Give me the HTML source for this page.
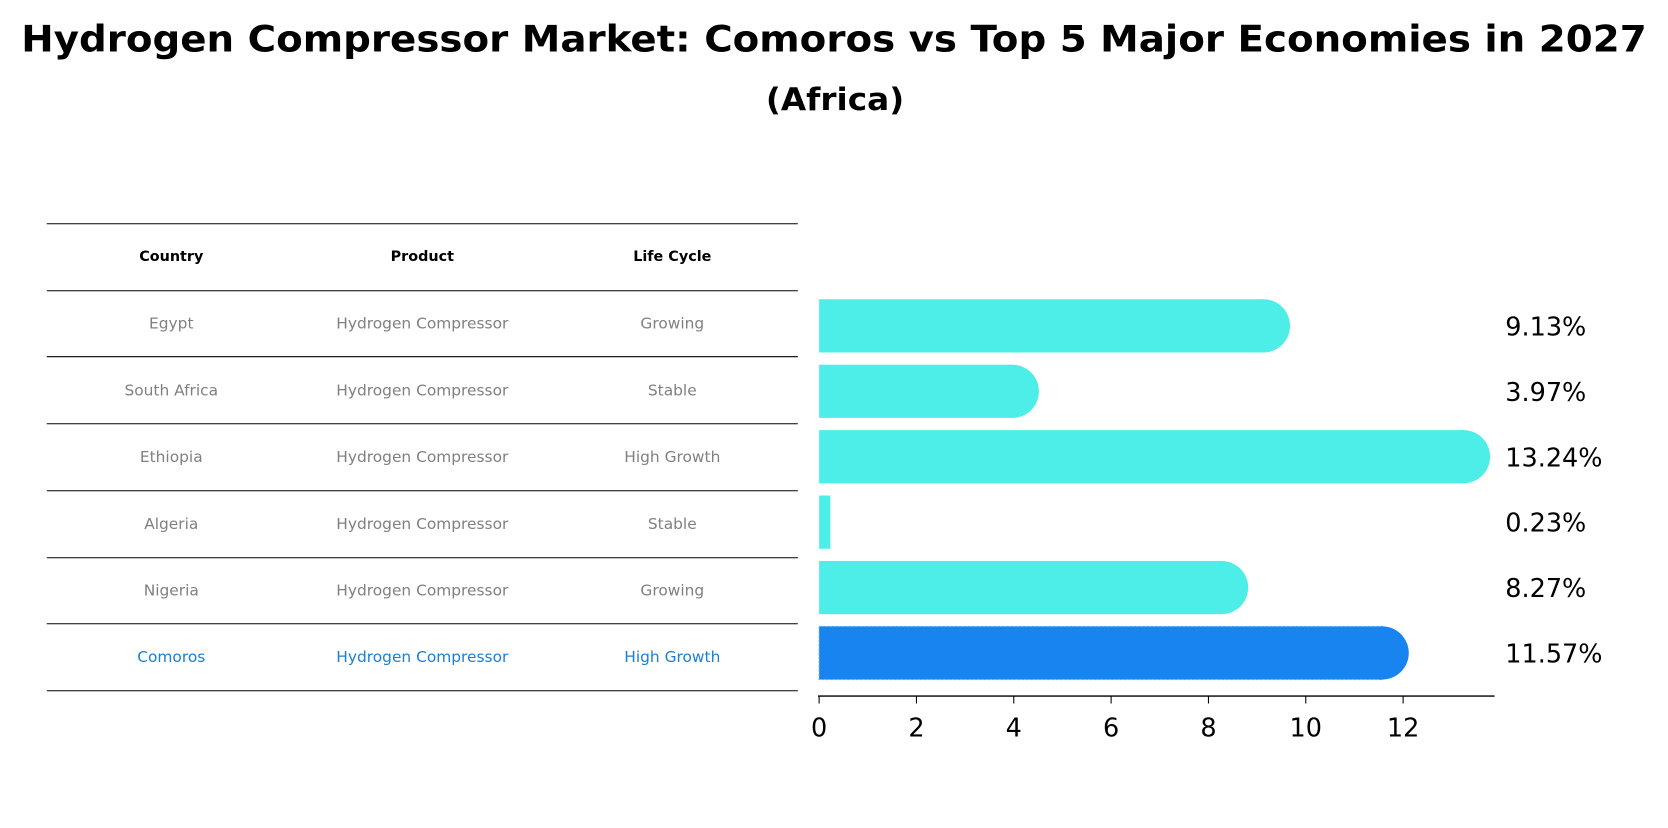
<!DOCTYPE html>
<html><head><meta charset="utf-8"><style>
body{margin:0;background:#fff;font-family:"Liberation Sans","DejaVu Sans",sans-serif;}
svg text{font-family:"DejaVu Sans","Liberation Sans",sans-serif;}
</style></head><body>
<svg id="c" width="1668" height="823" viewBox="0 0 1568 773" xmlns="http://www.w3.org/2000/svg">
<text x="784" y="48" text-anchor="middle" font-size="34" font-weight="bold" textLength="1528" lengthAdjust="spacingAndGlyphs">Hydrogen Compressor Market: Comoros vs Top 5 Major Economies in 2027</text>
<text x="785" y="103" text-anchor="middle" font-size="29" font-weight="bold" textLength="130" lengthAdjust="spacingAndGlyphs">(Africa)</text>
<g id="table"></g>
<g id="bars"></g>
</svg>
<script>
const countries=["Egypt","South Africa","Ethiopia","Algeria","Nigeria","Comoros"];
const products=["Hydrogen Compressor","Hydrogen Compressor","Hydrogen Compressor","Hydrogen Compressor","Hydrogen Compressor","Hydrogen Compressor"];
const lifecycles=["Growing","Stable","High Growth","Stable","Growing","High Growth"];
const values=[9.13,3.97,13.24,0.23,8.27,11.57];
const ticks=[0,2,4,6,8,10,12];
const NS="http://www.w3.org/2000/svg";
function mk(t,a,p){const e=document.createElementNS(NS,t);for(const k in a)e.setAttribute(k,a[k]);p.appendChild(e);return e;}
const tb=document.getElementById('table'), bg=document.getElementById('bars');
const rowY=i=>306+i*61.5;
const xs=v=>770+v*45.75;
const colX=[161,397,632];
const lineYs=[210,273,335,398,461,524,586,649];
lineYs.forEach((y,i)=>{const l=mk('line',{x1:44,x2:750,y1:y,y2:y,stroke:'#000','stroke-width':1},tb);

});
["Country","Product","Life Cycle"].forEach((h,j)=>{const t=mk('text',{x:colX[j],y:245,'text-anchor':'middle','font-size':13.5,'font-weight':'bold'},tb);t.textContent=h;

});
countries.forEach((c,i)=>{
 const col=i===countries.length-1?'#1a7fd6':'#808080';
 [c,products[i],lifecycles[i]].forEach((s,j)=>{const t=mk('text',{x:colX[j],y:(241+(i+1)*62.7+5).toFixed(1),'text-anchor':'middle','font-size':14.5,fill:col},tb);t.textContent=s;
 
 });
});
values.forEach((v,i)=>{
 const hi=i===values.length-1;const fill=hi?'#1884f0':'#4deee8';
 const y=rowY(i);
 const r=mk('rect',{x:770,y:y-25,width:Math.max(0,xs(v)-770),height:50,fill:fill},bg);
 
 
 if(hi){r.setAttribute('stroke','#5ab0ff');r.setAttribute('stroke-dasharray','2,2');r.setAttribute('stroke-width','1');}
 if(v>1){const c=mk('circle',{cx:xs(v),cy:y,r:25,fill:fill},bg);
 
 }
 const t=mk('text',{x:1415,y:y+9,'font-size':24},bg);t.textContent=v.toFixed(2)+'%';
 
 
});
const ax=mk('line',{x1:769,x2:1405,y1:654,y2:654,stroke:'#000','stroke-width':1.2},bg);


ticks.forEach(tv=>{const l=mk('line',{x1:xs(tv),x2:xs(tv),y1:654,y2:661,stroke:'#000','stroke-width':1},bg);


const t=mk('text',{x:xs(tv),y:692,'text-anchor':'middle','font-size':24},bg);t.textContent=tv;

});
</script>
</body></html>
